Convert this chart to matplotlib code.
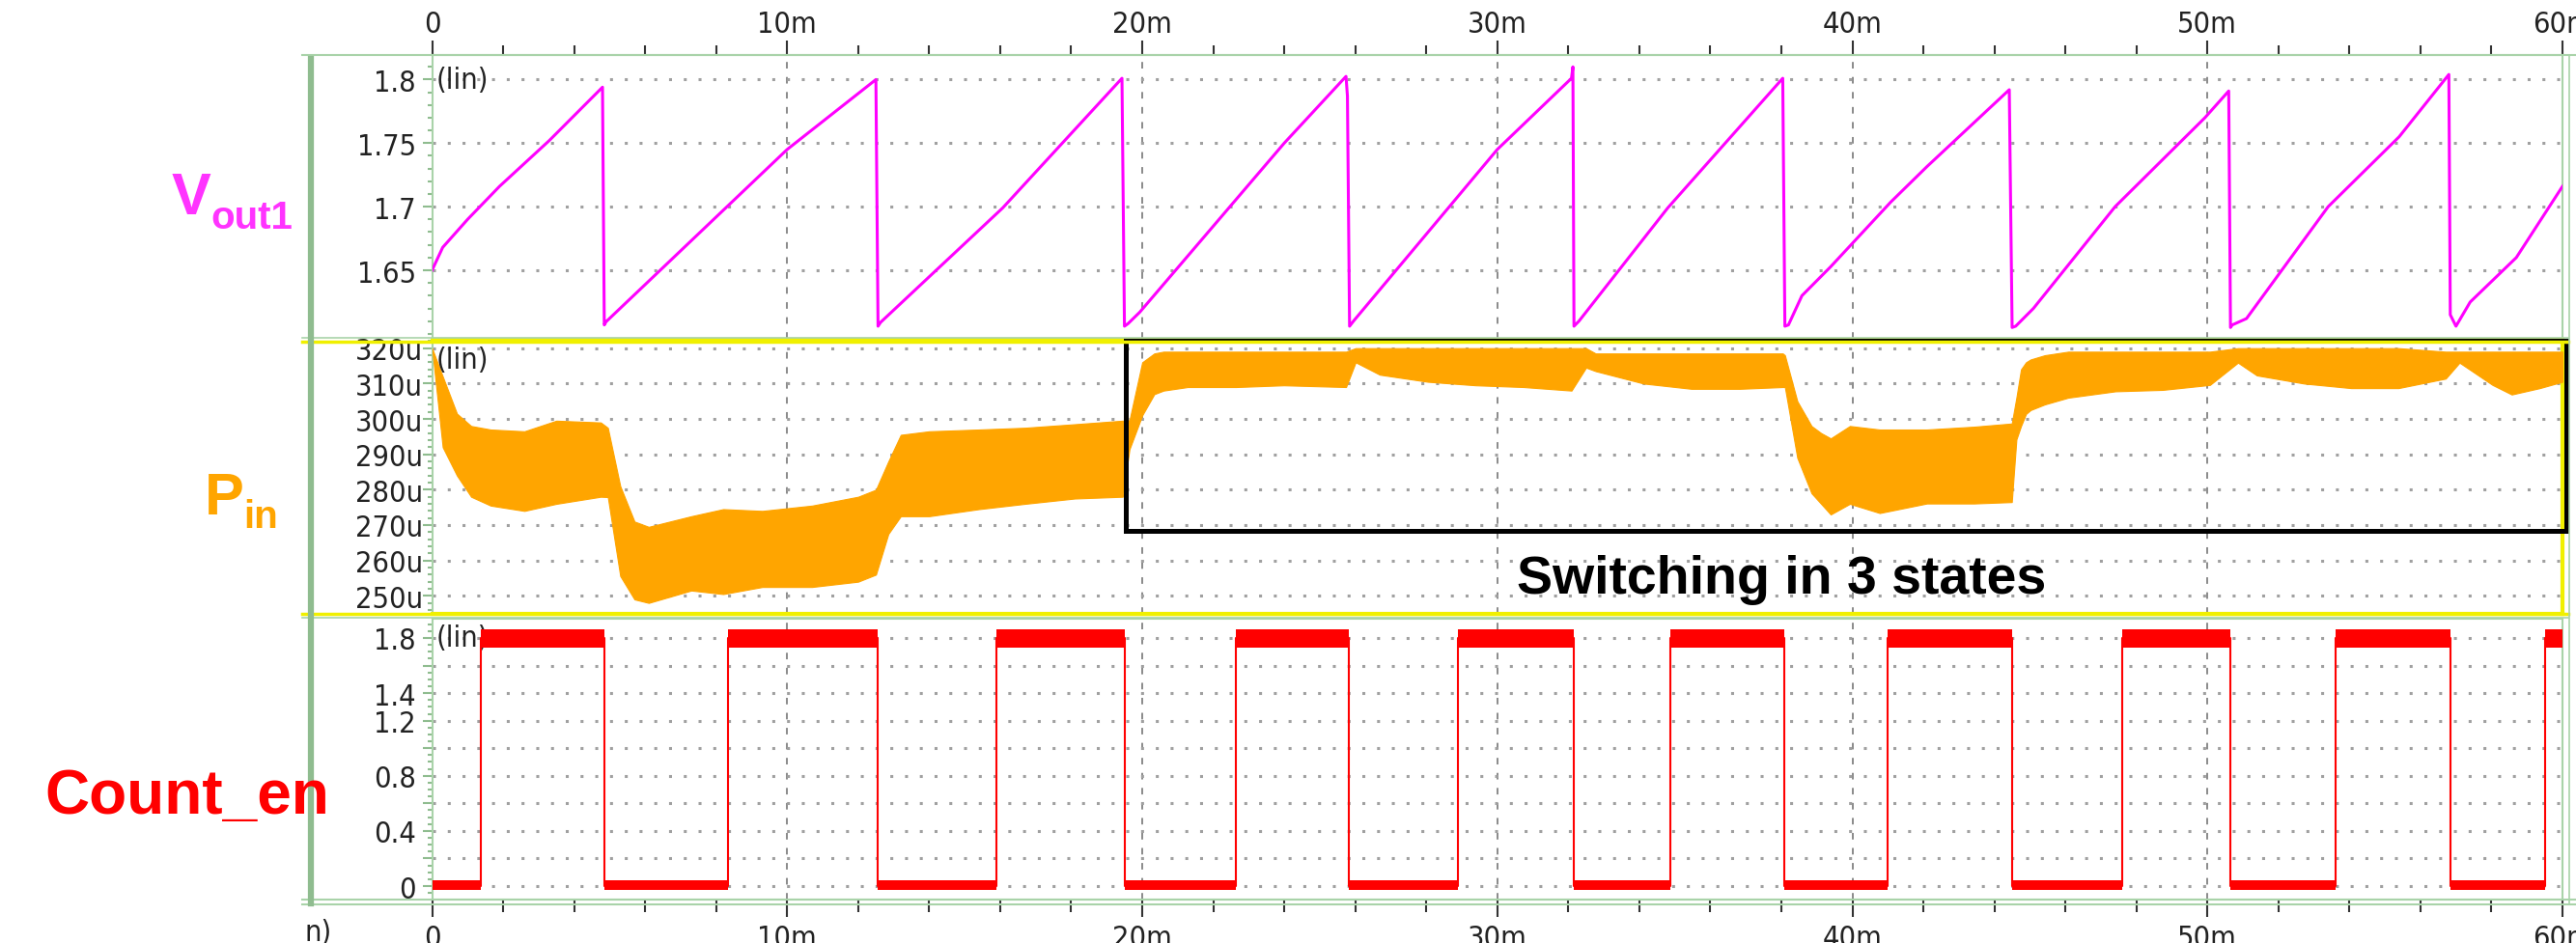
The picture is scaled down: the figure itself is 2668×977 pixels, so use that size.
import matplotlib
matplotlib.use('Agg')
import matplotlib.pyplot as plt
from matplotlib.lines import Line2D
from matplotlib.patches import Rectangle
from matplotlib.ticker import MultipleLocator, FixedLocator

W, H, DPI = 2668, 978, 100

# ---------------- data (time axis in ms) ----------------
x_ticks = [0, 10, 20, 30, 40, 50, 60]
x_labels = ['0', '10m', '20m', '30m', '40m', '50m', '60m']

# Vout1 sawtooth (V)
vout_t = [0, 0.3, 1.0, 1.9, 3.3, 4.8, 4.85,
          4.9, 10.0, 12.5, 12.56,
          12.63, 16.07, 19.43, 19.5,
          19.6, 19.93, 24.0, 25.74, 25.78, 25.84,
          25.95, 30.0, 32.09, 32.13, 32.16,
          32.3, 34.8, 38.04, 38.1,
          38.2, 38.58, 39.39, 41.08, 42.1, 44.42, 44.46, 44.5,
          44.6, 45.1, 47.4, 49.93, 50.6, 50.65,
          50.7, 51.1, 53.4, 55.4, 56.8, 56.84, 57.0,
          57.4, 58.7, 60.0]
vout_v = [1.65, 1.668, 1.69, 1.716, 1.752, 1.794, 1.607,
          1.6095, 1.745, 1.80, 1.606,
          1.609, 1.699, 1.801, 1.606,
          1.608, 1.617, 1.75, 1.8025, 1.787, 1.606,
          1.61, 1.745, 1.801, 1.81, 1.606,
          1.61, 1.699, 1.801, 1.606,
          1.607, 1.63, 1.6528, 1.7036, 1.7315, 1.792, 1.697, 1.605,
          1.606, 1.62, 1.70, 1.77, 1.791, 1.605,
          1.607, 1.612, 1.70, 1.755, 1.804, 1.615, 1.606,
          1.625, 1.66, 1.716]

# Pin ripple envelope (uW)
pin_t = [0, 0.3, 0.7, 1.1, 1.65, 2.6, 3.5, 4.75, 4.95, 5.3, 5.7, 6.1, 7.3, 8.2,
         9.3, 10.7, 12.0, 12.5, 12.85, 13.2, 14.0, 15.4, 16.7, 18.1, 19.45,
         19.64, 20.0, 20.34, 20.6, 21.28, 22.64, 23.99, 25.74, 26.01, 26.69,
         28.04, 29.39, 30.74, 32.09, 32.5, 32.77, 34.12, 35.47, 36.82, 38.04,
         38.1, 38.45, 38.85, 39.12, 39.39, 39.93, 40.77, 42.1, 43.43, 44.49,
         44.62, 44.75, 44.89, 45.02, 45.42, 46.08, 47.41, 48.74, 50.07, 50.86,
         51.39, 52.72, 54.05, 55.38, 56.71, 57.1, 58.03, 58.57, 59.36, 60.0]
pin_hi = [320, 312, 301.5, 298, 297, 296.5, 299.5, 299, 297.5, 281, 271, 269.5, 272.5, 274.5,
          274, 275.5, 278, 280, 288, 295.5, 296.5, 297, 297.5, 298.5, 299.5,
          299.6, 316, 318.5, 319, 319, 319, 319, 319, 320, 320,
          320, 320, 320, 320, 320, 318.5, 318.5, 318.5, 318.5, 318.5,
          318, 305, 298, 296, 294.5, 298, 297, 297, 297.8, 298.7,
          306, 314, 316, 316.8, 318, 319, 319, 319, 319, 320,
          320, 320, 320, 320, 319, 319, 319, 319, 319, 319]
pin_lo = [320, 292, 284, 278, 275.5, 274, 276, 278, 277.9, 255.6, 249, 248, 251.5, 250.5,
          252.5, 252.5, 254, 256, 267.5, 272.5, 272.5, 274.5, 276, 277.5, 278,
          291.4, 301, 307, 308, 309, 309, 309.5, 309, 316, 312.5,
          310.5, 309.5, 309, 308, 314.5, 313.5, 310, 308.5, 308.5, 309,
          309, 289, 279, 276, 273, 276, 273.4, 276.1, 276.1, 276.5,
          294.2, 298, 301.4, 302.5, 304.1, 306, 307.8, 308.2, 309.6, 315.9,
          312.3, 310, 308.7, 308.7, 311.4, 315.9, 309.6, 306.9, 308.7, 310.5]

# Count_en digital level (V), value holds from each time to the next
cnt_t = [0, 1.38, 4.85, 8.34, 12.56, 15.9, 19.5, 22.65, 25.83, 28.9, 32.16,
         34.87, 38.07, 41.0, 44.5, 47.6, 50.65, 53.6, 56.85, 59.5, 60.0]
cnt_v = [0, 1.8, 0, 1.8, 0, 1.8, 0, 1.8, 0, 1.8, 0,
         1.8, 0, 1.8, 0, 1.8, 0, 1.8, 0, 1.8, 1.8]

# ---------------- style ----------------
plt.rcParams['font.family'] = ['DejaVu Sans']
plt.rcParams['font.stretch'] = 'condensed'
TICK_FS = 22
GREEN = '#8fbc8f'
LGREEN = '#a9d3a9'
YELLOW = '#f0f000'
GRID_C = '#a0a0a0'

fig = plt.figure(figsize=(W / DPI, H / DPI), dpi=DPI)
fig.patch.set_facecolor('white')


def rect(x0, y0, x1, y1):
    return [x0 / W, 1 - y1 / H, (x1 - x0) / W, (y1 - y0) / H]


ax1 = fig.add_axes(rect(447.5, 58, 2654, 352))
ax2 = fig.add_axes(rect(447.5, 353, 2654, 637))
ax3 = fig.add_axes(rect(447.5, 642, 2654, 933))
axes = [ax1, ax2, ax3]

for ax in axes:
    ax.set_xlim(0, 60)
    ax.xaxis.set_major_locator(FixedLocator(x_ticks))
    ax.xaxis.set_minor_locator(MultipleLocator(2))
    for sp in ax.spines.values():
        sp.set_color(LGREEN)
        sp.set_linewidth(1.5)
    # grid
    for xv in x_ticks[1:-1]:
        ax.axvline(xv, color='#8a8a8a', lw=1.4, ls=(0, (3.5, 4.5)), zorder=0)
    ax.tick_params(axis='y', which='both', direction='out', color=GREEN,
                   labelsize=TICK_FS, labelcolor='#222222', width=1.5)
    ax.tick_params(axis='y', which='major', length=7)
    ax.tick_params(axis='y', which='minor', length=3.5)

# top panel: Vout1
ax1.set_ylim(1.5961, 1.8193)
ax1.yaxis.set_major_locator(FixedLocator([1.65, 1.7, 1.75, 1.8]))
ax1.yaxis.set_minor_locator(MultipleLocator(0.01))
ax1.set_yticklabels(['1.65', '1.7', '1.75', '1.8'])
ax1.tick_params(axis='y', pad=5)
ax1.xaxis.tick_top()
ax1.set_xticklabels(x_labels)
ax1.tick_params(axis='x', which='major', length=10.8, width=1.5, color='#333333',
                labelsize=TICK_FS, pad=2, labelcolor='#222222')
ax1.tick_params(axis='x', which='minor', length=7.2, width=1.5, color='#333333')
ax1.spines['bottom'].set_visible(False)
for yv in [1.65, 1.7, 1.75, 1.8]:
    ax1.axhline(yv, color=GRID_C, lw=2.2, ls=(0, (1, 4)), zorder=0)
ax1.plot(vout_t, vout_v, color='#ff00ff', lw=2.2, zorder=3)
ax1.text(0.1, 1.8, '(lin)', fontsize=TICK_FS, color='#222222', va='center', ha='left')

# middle panel: Pin
pin_yt = [250, 260, 270, 280, 290, 300, 310, 320]
ax2.set_ylim(244.9, 322.37)
ax2.yaxis.set_major_locator(FixedLocator(pin_yt))
ax2.yaxis.set_minor_locator(MultipleLocator(2))
ax2.set_yticklabels(['%du' % v for v in pin_yt])
ax2.tick_params(axis='y', pad=0)
ax2.tick_params(axis='x', which='both', bottom=False, top=False,
                labelbottom=False, labeltop=False)
for s in ['top', 'bottom', 'right']:
    ax2.spines[s].set_color(YELLOW)
    ax2.spines[s].set_linewidth(3)
for yv in pin_yt:
    ax2.axhline(yv, color=GRID_C, lw=2.2, ls=(0, (1, 4)), zorder=0)
ax2.fill_between(pin_t, pin_lo, pin_hi, color='#ffa500', lw=0.8, zorder=3)
ax2.text(0.1, 316.9, '(lin)', fontsize=TICK_FS, color='#222222', va='center', ha='left')
ax2.add_patch(Rectangle((19.54, 268.4), 60.11 - 19.54, 322.2 - 268.4, fill=False,
                        ec='black', lw=3.6, clip_on=False, zorder=5))

# bottom panel: Count_en
cnt_yt = [0, 0.2, 0.4, 0.6, 0.8, 1.0, 1.2, 1.4, 1.6, 1.8]
cnt_lab = ['0', '', '0.4', '', '0.8', '', '1.2', '1.4', '', '1.8']
ax3.set_ylim(-0.098, 1.94)
ax3.yaxis.set_major_locator(FixedLocator(cnt_yt))
ax3.yaxis.set_minor_locator(MultipleLocator(0.05))
ax3.set_yticklabels(cnt_lab)
ax3.tick_params(axis='y', pad=5)
ax3.set_xticklabels(x_labels)
ax3.tick_params(axis='x', which='major', length=13, width=1.5, color='#333333',
                labelsize=TICK_FS, pad=5, labelcolor='#222222')
ax3.tick_params(axis='x', which='minor', length=9.4, width=1.5, color='#333333')
for yv in cnt_yt:
    ax3.axhline(yv, color=GRID_C, lw=2.2, ls=(0, (1, 4)), zorder=0)
ax3.text(0.1, 1.8, '(lin)', fontsize=TICK_FS, color='#222222', va='center', ha='left', zorder=1)
ax3.step(cnt_t, cnt_v, where='post', color='#ff0000', lw=1.5, zorder=3)
for i in range(len(cnt_t) - 1):
    if cnt_v[i] > 1:
        ax3.fill_between([cnt_t[i], cnt_t[i + 1]], 1.73, 1.86, color='#ff0000', lw=0, zorder=3)
    else:
        ax3.fill_between([cnt_t[i], cnt_t[i + 1]], -0.03, 0.045, color='#ff0000', lw=0, zorder=3)

# frame decorations (figure level, pixel positions)
def fline(x0, y0, x1, y1, **kw):
    fig.add_artist(Line2D([x0 / W, x1 / W], [1 - y0 / H, 1 - y1 / H],
                          transform=fig.transFigure, **kw))

fline(313, 58, 2668, 58, color=LGREEN, lw=1.5)
fline(313, 351, 2660, 351, color=LGREEN, lw=1.2)
fline(313, 354.5, 2660, 354.5, color=YELLOW, lw=2.5)
fline(313, 636.5, 2660, 636.5, color=YELLOW, lw=2.5)
fline(313, 641, 2660, 641, color=LGREEN, lw=1.2)
fline(313, 933, 2668, 933, color=LGREEN, lw=1.5)
fline(313, 938, 2668, 938, color=LGREEN, lw=1.5)
fline(322, 62, 322, 937, color=GREEN, lw=4.5)
fline(2661, 58, 2661, 938, color=LGREEN, lw=1.2)

# signal names
big = dict(family='Liberation Sans', fontweight='bold', fontstretch='normal')
fig.text(178 / W, 1 - 222 / H, 'V', color='#ff33ff', fontsize=44, **big)
fig.text(218 / W, 1 - 237 / H, 'out1', color='#ff33ff', fontsize=29, **big)
fig.text(212 / W, 1 - 533 / H, 'P', color='#ffa500', fontsize=44, **big)
fig.text(252 / W, 1 - 547 / H, 'in', color='#ffa500', fontsize=29, **big)
fig.text(46 / W, 1 - 843 / H, 'Count_en', color='#ff0000', fontsize=46, **big)
fig.text(316 / W, 1 - 975 / H, 'n)', color='#222222', fontsize=TICK_FS)

fig.text(1571 / W, 1 - 615 / H, 'Switching in 3 states', color='black',
         fontsize=40, **big)

fig.savefig('out.png', dpi=DPI, facecolor='white')
